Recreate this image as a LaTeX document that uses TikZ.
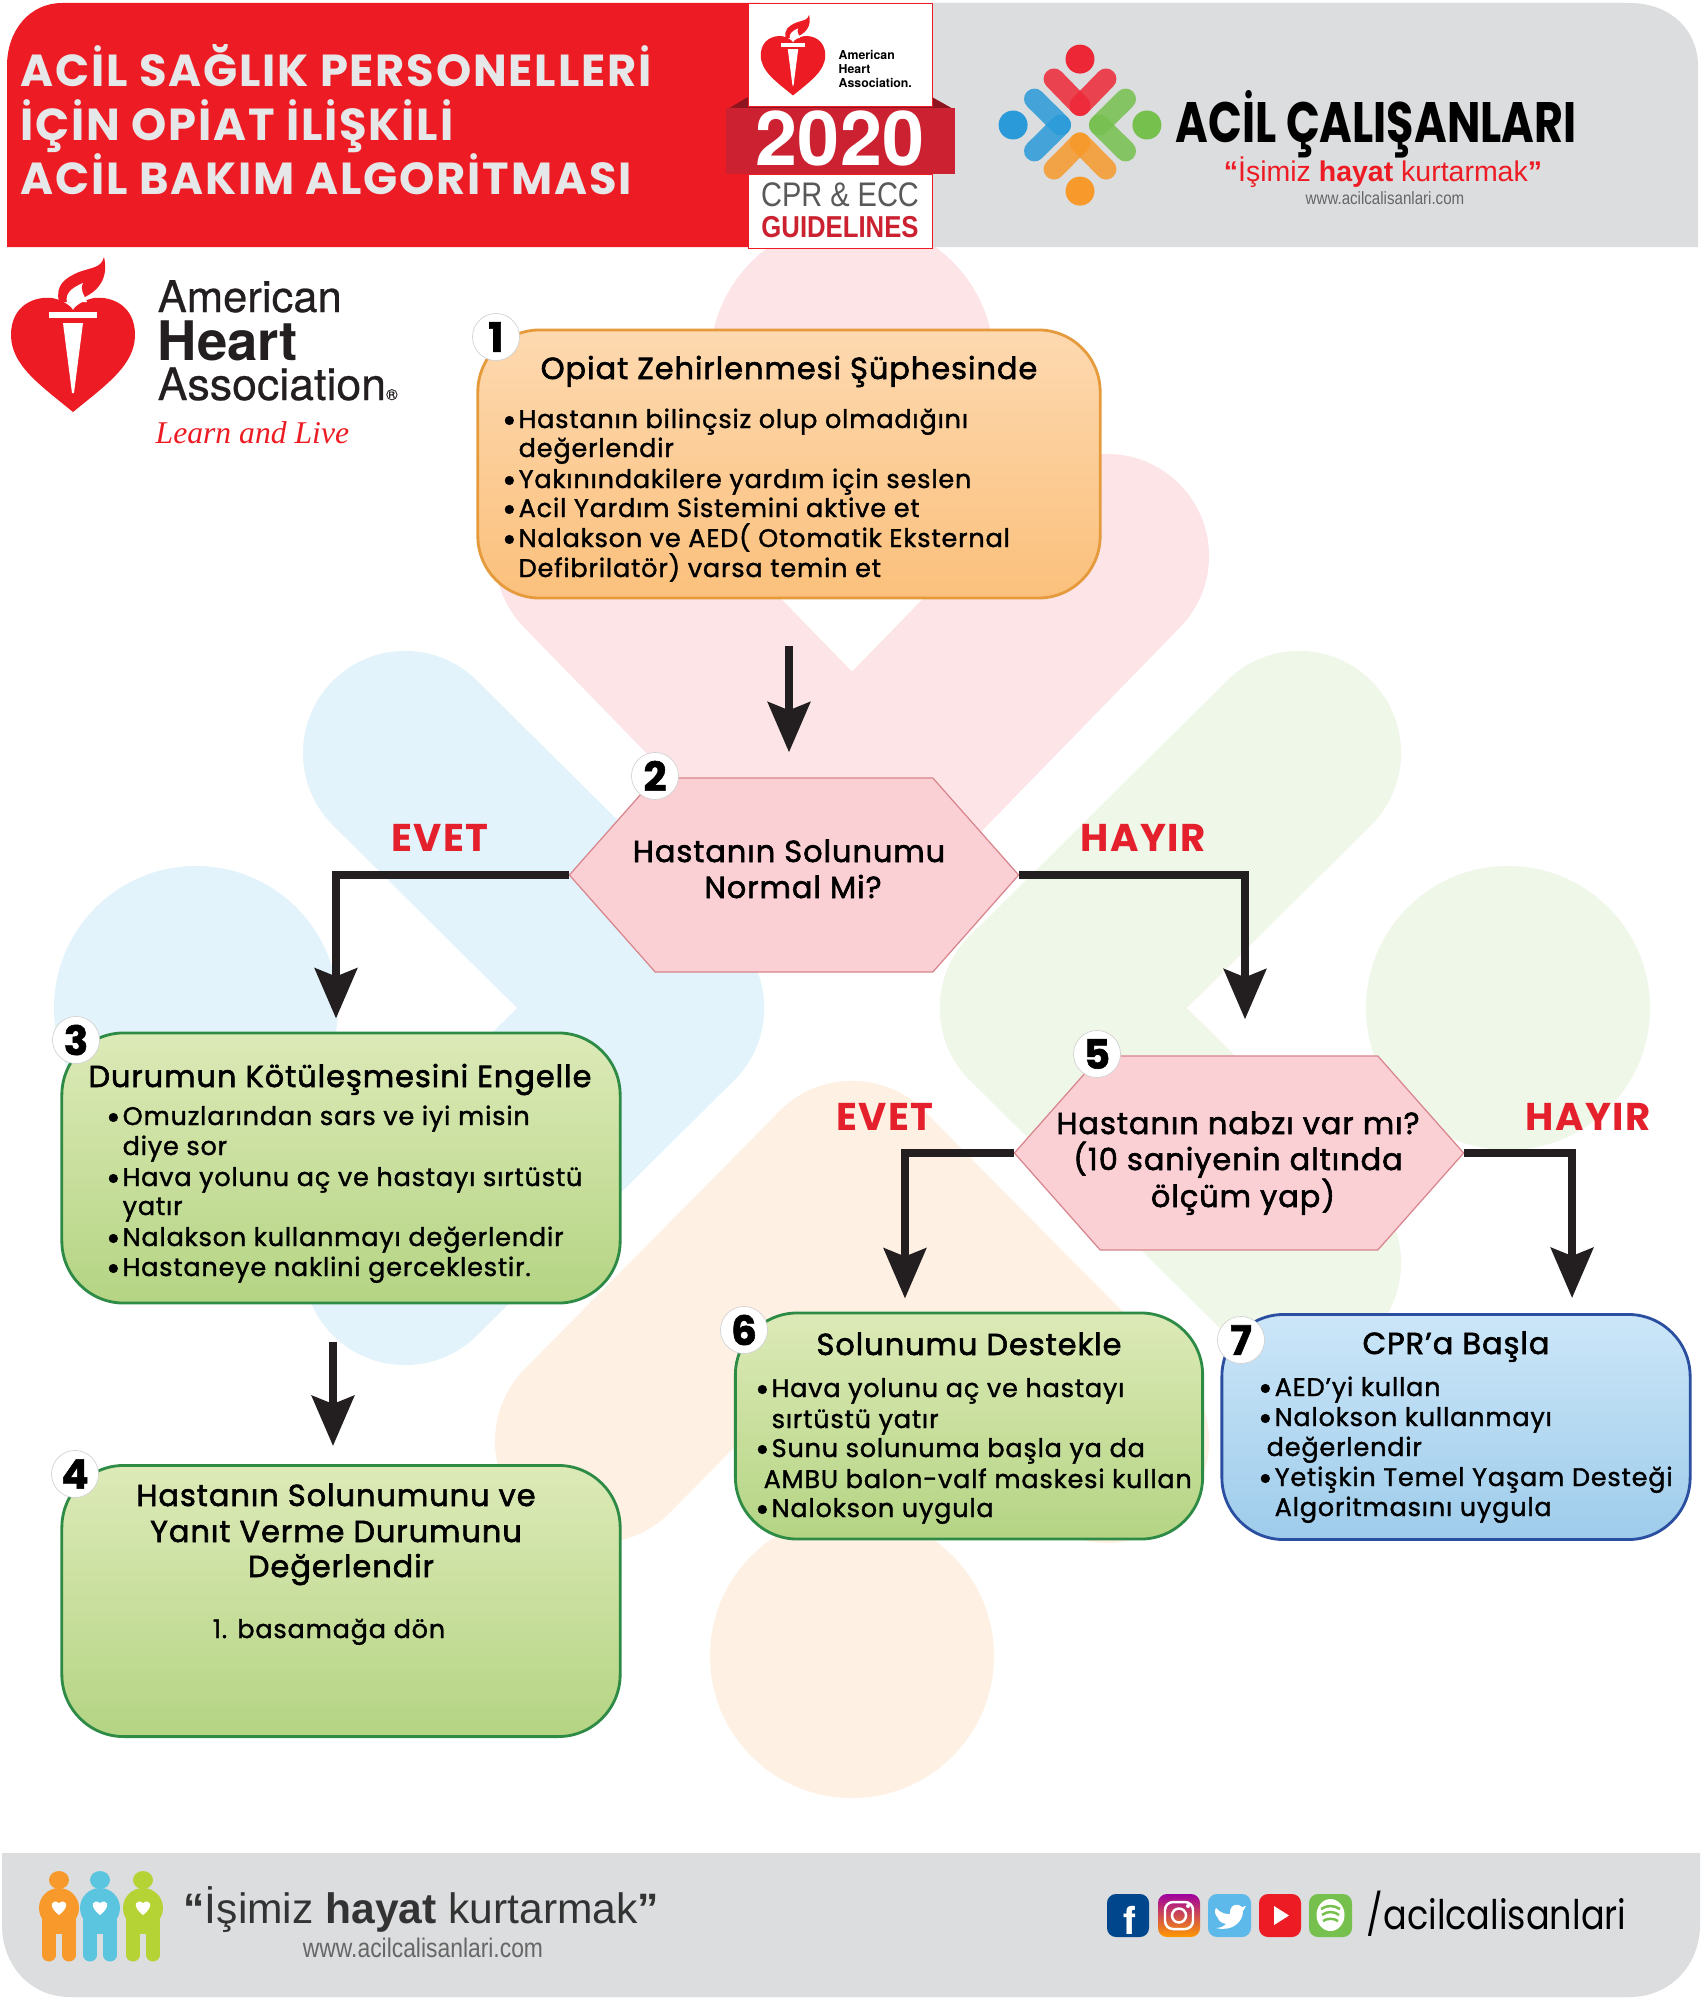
\documentclass[tikz,border=0pt]{standalone}
\usepackage{fontspec}
\usepackage{xcolor}
\usetikzlibrary{arrows.meta,shapes.symbols}
\setmainfont{Poppins}
\newfontfamily\boxfont[LetterSpace=3.2,FakeBold=1.4]{Poppins}
\newfontfamily\titlefont[LetterSpace=3.2,FakeBold=2]{Poppins}
\newfontfamily\headfont[LetterSpace=4,BoldFont={Poppins Bold}]{Poppins}
\newfontfamily\logofont[FakeStretch=0.78]{Poppins}
\newfontfamily\handlefont[FakeStretch=0.86]{Poppins}
\newfontfamily\thinfont[FakeStretch=0.85]{Liberation Sans}
\newfontfamily\quotefont{Liberation Sans}
\newfontfamily\ahafont{TeX Gyre Heros}
\newfontfamily\ahamidfont[FakeBold=0.5]{TeX Gyre Heros}
\newfontfamily\learnfont{Liberation Serif}
\definecolor{headred}{HTML}{ED1C24}
\definecolor{headgrey}{HTML}{DCDDDF}
\definecolor{bandred}{HTML}{CB2130}
\definecolor{darkfold}{HTML}{8E1520}
\definecolor{titlegrey}{HTML}{E6E7E8}
\definecolor{arrowblack}{HTML}{231F20}
\definecolor{pinkmark}{HTML}{FCE4E7}
\definecolor{bluemark}{HTML}{E2F3FB}
\definecolor{greenmark}{HTML}{EFF7E8}
\definecolor{orangemark}{HTML}{FEF1E3}
\definecolor{logored}{HTML}{EE2737}
\definecolor{logoblue}{HTML}{2A9BD8}
\definecolor{logogreen}{HTML}{76C04E}
\definecolor{logoorange}{HTML}{F7992B}
\definecolor{labelred}{HTML}{E4202C}
\definecolor{hexpink}{HTML}{FBD0D4}
\definecolor{hexedge}{HTML}{D8848C}
\definecolor{orangetop}{HTML}{FDD9B0}
\definecolor{orangebot}{HTML}{FBC07C}
\definecolor{orangeedge}{HTML}{E59A3C}
\definecolor{greentop}{HTML}{DDEAB8}
\definecolor{greenbot}{HTML}{B4D483}
\definecolor{greenedge}{HTML}{2E8B45}
\definecolor{bluetop}{HTML}{CCE6F8}
\definecolor{bluebot}{HTML}{9ECCEB}
\definecolor{blueedge}{HTML}{2A4FA0}
\definecolor{peopleblue}{HTML}{5BC5E0}
\definecolor{peoplegreen}{HTML}{B5D334}

\tikzset{
  basebox/.style={rounded corners=.62cm,inner sep=0pt,line width=.8pt},
  orangebox/.style={basebox,draw=orangeedge,top color=orangetop,bottom color=orangebot},
  greenbox/.style={basebox,draw=greenedge,top color=greentop,bottom color=greenbot},
  bluebox/.style={basebox,draw=blueedge,top color=bluetop,bottom color=bluebot},
  hexbox/.style={signal,signal to=west and east,signal pointer angle=97,
    minimum width=4.49cm,minimum height=1.94cm,inner sep=0pt,fill=hexpink,draw=hexedge,line width=.35pt},
  numcircle/.style={circle,fill=white,draw=gray!35,line width=.2pt,minimum size=.47cm,inner sep=0pt,
    font=\boxfont\fontsize{11.5pt}{12pt}\selectfont\bfseries},
  titletext/.style={anchor=base,inner sep=0pt,font=\titlefont\fontsize{8.65pt}{10pt}\selectfont,text=black},
  listtext/.style={anchor=base west,inner sep=0pt,font=\boxfont\fontsize{7.25pt}{8pt}\selectfont,text=black},
  answertext/.style={font=\headfont\fontsize{11pt}{12pt}\selectfont\bfseries,text=labelred},
  flowarrow/.style={draw=arrowblack,line width=2.4pt,-{Stealth[length=.5cm,width=.42cm,inset=.08cm]}},
  socialicon/.style={rounded corners=.09cm}
}

\newcommand{\bul}{\llap{\smash{\raisebox{-1.2pt}{\fontsize{10pt}{8pt}\selectfont\textbullet}}\hspace{.6pt}}}

% the four coloured chevrons and dots
\newcommand{\crosslogo}[6]{
  \foreach \ux/\uy/\col/\dotd/\arm/\tip in {0/-1/#1/646/452/190,-1/0/#2/656/447/190,1/0/#3/656/447/190,0/1/#4/648/433/175} {
    \fill[\col] ({\ux*\dotd},{\uy*\dotd}) circle[radius=142];
    \draw[\col,line width=#5,line cap=round,opacity=#6]
      ({\ux*\arm+\uy*255},{\uy*\arm+\ux*255}) -- ({\ux*\tip},{\uy*\tip});
    \draw[\col,line width=#5,line cap=round,opacity=#6]
      ({\ux*\arm-\uy*255},{\uy*\arm-\ux*255}) -- ({\ux*\tip},{\uy*\tip});
  }
}

% heart with torch, centre of the heart at (0,0)
\newcommand{\ahaheart}{
  \fill[headred] (0,72) .. controls (-33,45) and (-62,25) .. (-62,-5)
    .. controls (-62,-35) and (-38,-44) .. (-21,-42)
    .. controls (-11,-40) and (-3,-35) .. (0,-30)
    .. controls (3,-35) and (11,-40) .. (21,-42)
    .. controls (38,-44) and (62,-35) .. (62,-5)
    .. controls (62,25) and (33,45) .. (0,72) -- cycle;
  \fill[headred] (-14,-38) .. controls (-18,-55) and (-8,-62) .. (6,-68)
    .. controls (20,-73) and (28,-72) .. (31,-83)
    .. controls (36,-62) and (26,-45) .. (-2,-38) -- cycle;
  \fill[white] (-6,-38) .. controls (-8,-46) and (-2,-52) .. (10,-57)
    .. controls (6,-50) and (12,-44) .. (14,-38) -- cycle;
  \fill[white] (-24,-28) rectangle (24,-22);
  \fill[white] (-10,-17) -- (10,-17) -- (1,53) -- (-1,53) -- cycle;
}

% one figure of the footer mark
\newcommand{\person}[2]{
  \fill[#2] (#1,1880) ellipse[x radius=10,y radius=9];
  \draw[#2,line width=.13cm,line cap=round] (#1-10,1925) -- (#1-10,1955);
  \draw[#2,line width=.13cm,line cap=round] (#1+10,1925) -- (#1+10,1955);
  \fill[#2] (#1-17,1918) rectangle (#1+17,1934);
  \fill[#2] (#1,1908) circle[radius=20];
  \fill[white] (#1,1915) .. controls (#1-12,1906) and (#1-7,1898) .. (#1,1903)
    .. controls (#1+7,1898) and (#1+12,1906) .. (#1,1915) -- cycle;
}

\begin{document}
\begin{tikzpicture}[x=.01cm,y=-.01cm]
\useasboundingbox (0,0) rectangle (1702,2000);
\fill[white] (0,0) rectangle (1702,2000);

% watermark
\begin{scope}[shift={(852,1008)}]
\crosslogo{pinkmark}{bluemark}{greenmark}{orangemark}{2.04cm}{1}
\end{scope}

% header
\fill[headred] (7,247) -- (7,66) .. controls (7,30) and (30,3) .. (62,3) -- (760,3) -- (760,247) -- cycle;
\fill[headgrey] (760,3) -- (1630,3) .. controls (1670,3) and (1698,30) .. (1698,66) -- (1698,247) -- (760,247) -- cycle;
\node[anchor=base west,text=titlegrey,font=\headfont\fontsize{12.75pt}{14pt}\selectfont\bfseries,inner sep=0pt] (head1) at (20,87) {ACİL SAĞLIK PERSONELLERİ};
\node[anchor=base west,text=titlegrey,font=\headfont\fontsize{12.75pt}{14pt}\selectfont\bfseries,inner sep=0pt] (head2) at (20,141) {İÇİN OPİAT İLİŞKİLİ};
\node[anchor=base west,text=titlegrey,font=\headfont\fontsize{12.75pt}{14pt}\selectfont\bfseries,inner sep=0pt] (head3) at (20,195) {ACİL BAKIM ALGORİTMASI};

% guidelines badge
\fill[darkfold] (726,110) -- (748,97) -- (932,97) -- (955,110) -- cycle;
\fill[bandred] (726,108) rectangle (955,174);
\draw[headred,line width=.2pt,fill=white] (748,3) rectangle (932,106);
\draw[headred,line width=.2pt,fill=white] (748,174) rectangle (932,248);
\begin{scope}[shift={(793,58)},scale=.52]
\ahaheart
\end{scope}
\node[anchor=base west,font=\ahafont\fontsize{3.5pt}{4pt}\selectfont\bfseries,inner sep=0pt] (bad1) at (838,60) {American};
\node[anchor=base west,font=\ahafont\fontsize{3.5pt}{4pt}\selectfont\bfseries,inner sep=0pt] (bad2) at (838,74) {Heart};
\node[anchor=base west,font=\ahafont\fontsize{3.5pt}{4pt}\selectfont\bfseries,inner sep=0pt] (bad3) at (838,88) {Association.};
\node[anchor=base,text=white,font=\ahafont\fontsize{21.5pt}{22pt}\selectfont\bfseries,inner sep=0pt] (bad4) at (840,166) {2020};
\node[anchor=base,text=gray!70!black,font=\thinfont\fontsize{9.7pt}{10pt}\selectfont,inner sep=0pt] (bad5) at (840,207) {CPR \& ECC};
\node[anchor=base,text=bandred,font=\thinfont\fontsize{8.6pt}{9pt}\selectfont\bfseries,inner sep=0pt] (bad6) at (840,238) {GUIDELINES};

% acil calisanlari logo
\begin{scope}[shift={(1080,125)},scale=.102]
\crosslogo{logored}{logoblue}{logogreen}{logoorange}{.208cm}{.85}
\end{scope}
\node[anchor=base west,font=\logofont\fontsize{16.2pt}{17pt}\selectfont\bfseries,inner sep=0pt] (brand) at (1175,143) {ACİL ÇALIŞANLARI};
\node[anchor=base,text=headred,font=\quotefont\fontsize{8.1pt}{9pt}\selectfont,inner sep=0pt] (brand2) at (1383,182) {\textbf{“}İşimiz \textbf{hayat} kurtarmak\textbf{”}};
\node[anchor=base,text=gray!80!black,font=\thinfont\fontsize{5.05pt}{6pt}\selectfont,inner sep=0pt] (brand3) at (1385,205) {www.acilcalisanlari.com};

% aha logo
\begin{scope}[shift={(73,340)}]
\ahaheart
\end{scope}
\node[anchor=base west,text=arrowblack,font=\ahamidfont\fontsize{12.4pt}{13pt}\selectfont,inner sep=0pt] (aha1) at (157,312) {American};
\node[anchor=base west,text=arrowblack,font=\ahafont\fontsize{15.5pt}{16pt}\selectfont\bfseries,inner sep=0pt] (aha2) at (157,360) {Heart};
\node[anchor=base west,text=arrowblack,font=\ahamidfont\fontsize{12.7pt}{13pt}\selectfont,inner sep=0pt] (aha3) at (157,400) {Association\raisebox{0pt}{\fontsize{4.5pt}{5pt}\selectfont®}};
\node[anchor=base west,text=headred,font=\learnfont\fontsize{9pt}{10pt}\selectfont\itshape,inner sep=0pt] (aha4) at (155,443) {Learn and Live};

% boxes
\node[orangebox,minimum width=6.22cm,minimum height=2.68cm] (n1) at (789,464) {};
\node[hexbox] (d2) at (794,875) {};
\node[greenbox,minimum width=5.58cm,minimum height=2.7cm] (n3) at (341,1168) {};
\node[greenbox,minimum width=5.58cm,minimum height=2.71cm] (n4) at (341,1601) {};
\node[hexbox] (d5) at (1239,1153) {};
\node[greenbox,minimum width=4.67cm,minimum height=2.26cm] (n6) at (969,1426) {};
\node[bluebox,minimum width=4.68cm,minimum height=2.25cm] (n7) at (1456,1427) {};

% arrows
\draw[flowarrow,shorten <=.46cm,shorten >=.25cm] (n1.south) -- (n1.south |- d2.north);
\draw[flowarrow] (d2.west) -| ([xshift=-.05cm,yshift=.13cm]n3.north);
\draw[flowarrow] (d2.east) -| ([xshift=.06cm,yshift=.36cm]d5.north);
\draw[flowarrow] (d5.west) -| ([xshift=-.64cm,yshift=.13cm]n6.north);
\draw[flowarrow] (d5.east) -| ([xshift=1.16cm,yshift=.15cm]n7.north);
\draw[flowarrow] ([xshift=-.08cm,yshift=-.37cm]n3.south) -- ([xshift=-.08cm,yshift=.18cm]n4.north);

\node[answertext] (yes2) at (440,838) {EVET};
\node[answertext] (no2) at (1143,838) {HAYIR};
\node[answertext] (yes5) at (885,1117) {EVET};
\node[answertext] (no5) at (1588,1117) {HAYIR};

% step numbers
\node[numcircle] (c1) at (496,337) {1};
\node[numcircle] (c2) at (655,776) {2};
\node[numcircle] (c3) at (76,1040) {3};
\node[numcircle] (c4) at (75,1474) {4};
\node[numcircle] (c5) at (1097,1054) {5};
\node[numcircle] (c6) at (744,1330) {6};
\node[numcircle] (c7) at (1241,1340) {7};

% box 1
\node[titletext] (t1) at (789,379) {Opiat Zehirlenmesi Şüphesinde};
\node[listtext] (l11) at (518,428) {\bul Hastanın bilinçsiz olup olmadığını};
\node[listtext] (l12) at (518,457) {değerlendir};
\node[listtext] (l13) at (518,488) {\bul Yakınındakilere yardım için seslen};
\node[listtext] (l14) at (518,517) {\bul Acil Yardım Sistemini aktive et};
\node[listtext] (l15) at (518,547) {\bul Nalakson ve AED( Otomatik Eksternal};
\node[listtext] (l16) at (518,577) {Defibrilatör) varsa temin et};

% decision 2
\node[titletext] (t21) at (789,862) {Hastanın Solunumu};
\node[titletext] (t22) at (793,898) {Normal Mi?};

% box 3
\node[titletext] (t3) at (340,1087) {Durumun Kötüleşmesini Engelle};
\node[listtext] (l31) at (122,1125) {\bul Omuzlarından sars ve iyi misin};
\node[listtext] (l32) at (122,1155) {diye sor};
\node[listtext] (l33) at (122,1186) {\bul Hava yolunu aç ve hastayı sırtüstü};
\node[listtext] (l34) at (122,1215) {yatır};
\node[listtext] (l35) at (122,1246) {\bul Nalakson kullanmayı değerlendir};
\node[listtext] (l36) at (122,1276) {\bul Hastaneye naklini gerceklestir.};

% box 4
\node[titletext] (t41) at (336,1506) {Hastanın Solunumunu ve};
\node[titletext] (t42) at (336,1542) {Yanıt Verme Durumunu};
\node[titletext] (t43) at (341,1577) {Değerlendir};
\node[listtext,anchor=base] (l41) at (329,1638) {1. basamağa dön};

% decision 5
\node[titletext] (t51) at (1238,1134) {Hastanın nabzı var mı?};
\node[titletext] (t52) at (1238,1170) {(10 saniyenin altında};
\node[titletext] (t53) at (1243,1207) {ölçüm yap)};

% box 6
\node[titletext] (t6) at (969,1355) {Solunumu Destekle};
\node[listtext] (l61) at (771,1397) {\bul Hava yolunu aç ve hastayı};
\node[listtext] (l62) at (771,1428) {sırtüstü yatır};
\node[listtext] (l63) at (771,1457) {\bul Sunu solunuma başla ya da};
\node[listtext] (l64) at (763,1488) {AMBU balon-valf maskesi kullan};
\node[listtext] (l65) at (771,1517) {\bul Nalokson uygula};

% box 7
\node[titletext] (t7) at (1456,1354) {CPR’a Başla};
\node[listtext] (l71) at (1274,1396) {\bul AED’yi kullan};
\node[listtext] (l72) at (1274,1426) {\bul Nalokson kullanmayı};
\node[listtext] (l73) at (1266,1456) {değerlendir};
\node[listtext] (l74) at (1274,1486) {\bul Yetişkin Temel Yaşam Desteği};
\node[listtext] (l75) at (1274,1516) {Algoritmasını uygula};

% footer
\fill[headgrey] (2,1853) -- (1700,1853) -- (1700,1925) .. controls (1700,1965) and (1670,1997) .. (1630,1997)
  -- (70,1997) .. controls (30,1997) and (2,1965) .. (2,1925) -- cycle;
\person{59}{logoorange}
\person{100}{peopleblue}
\person{143}{peoplegreen}
\node[anchor=base west,text=gray!40!black,font=\quotefont\fontsize{12.1pt}{13pt}\selectfont,inner sep=0pt] (foot1) at (183,1923) {\textbf{“}İşimiz \textbf{hayat} kurtarmak\textbf{”}};
\node[anchor=base,text=gray!80!black,font=\thinfont\fontsize{7.65pt}{8pt}\selectfont,inner sep=0pt] (foot2) at (423,1957) {www.acilcalisanlari.com};

% social icons
\fill[socialicon,blue!50!cyan!55!black] (1107,1894) rectangle (1149,1937);
\node[text=white,font=\ahafont\fontsize{11pt}{12pt}\selectfont\bfseries,anchor=base,inner sep=0pt] (fb) at (1130,1934) {f};
\shade[socialicon,top color=violet!75!magenta,bottom color=orange!80!yellow] (1158,1894) rectangle (1200,1937);
\draw[white,line width=.7pt,rounded corners=.08cm] (1165,1902) rectangle (1193,1929);
\draw[white,line width=.7pt] (1179,1915.5) circle[radius=7];
\fill[white] (1188,1906) circle[radius=2];
\fill[socialicon,cyan!60!white!90!blue] (1208,1894) rectangle (1251,1937);
\fill[white] (1216,1908) .. controls (1222,1914) and (1226,1914) .. (1230,1914)
  .. controls (1229,1905) and (1238,1902) .. (1242,1907) -- (1246,1906) -- (1243,1911)
  .. controls (1243,1922) and (1232,1932) .. (1216,1928)
  .. controls (1221,1928) and (1224,1926) .. (1226,1924)
  .. controls (1221,1923) and (1218,1920) .. (1218,1918)
  .. controls (1215,1915) and (1214,1911) .. (1216,1908) -- cycle;
\fill[socialicon,headred] (1259,1894) rectangle (1301,1937);
\fill[white] (1274,1906) -- (1289,1915.5) -- (1274,1925) -- cycle;
\fill[socialicon,logogreen] (1309,1894) rectangle (1352,1937);
\fill[white] (1330.5,1915) ellipse[x radius=14,y radius=16];
\draw[logogreen,line width=.7pt] (1321,1909) .. controls (1327,1905) and (1334,1905) .. (1340,1909);
\draw[logogreen,line width=.7pt] (1322,1915) .. controls (1327,1911) and (1334,1911) .. (1339,1915);
\draw[logogreen,line width=.7pt] (1323,1921) .. controls (1327,1918) and (1334,1918) .. (1338,1921);
\node[anchor=base west,font=\handlefont\fontsize{11.6pt}{12pt}\selectfont,inner sep=0pt] (handle) at (1366,1929) {/acilcalisanlari};
\end{tikzpicture}
\end{document}
